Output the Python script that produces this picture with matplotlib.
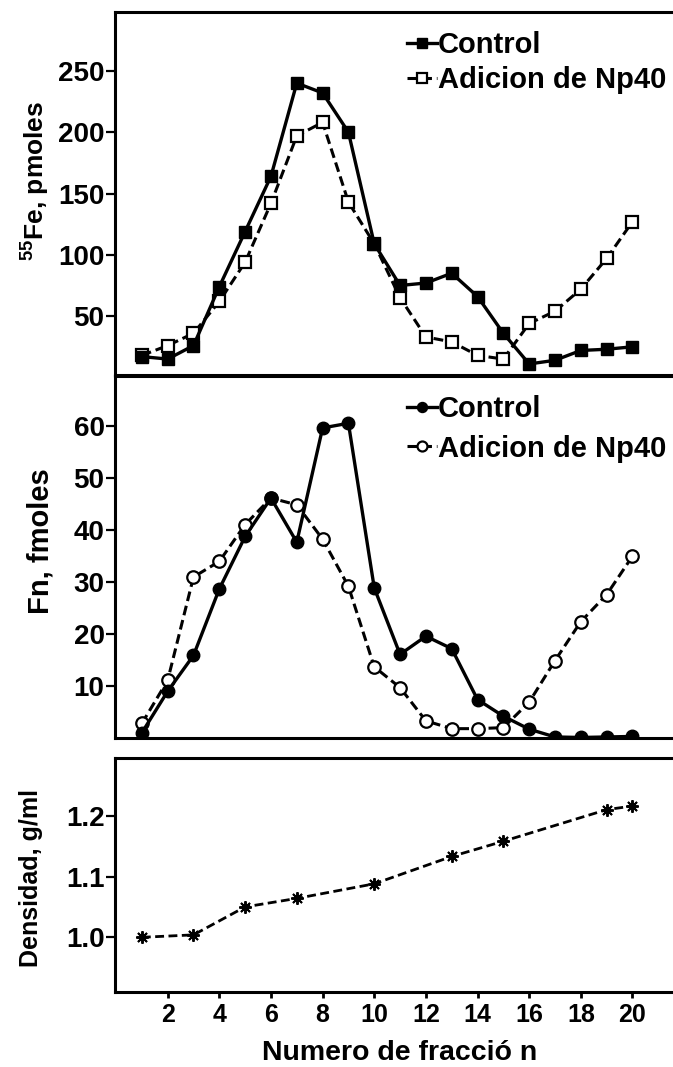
import matplotlib
matplotlib.use("Agg")
import matplotlib.pyplot as plt

plt.rcParams['font.family'] = ['Liberation Sans', 'DejaVu Sans']
plt.rcParams['font.weight'] = 'bold'
plt.rcParams['mathtext.fontset'] = 'custom'
plt.rcParams['mathtext.rm'] = 'Liberation Sans:bold'
plt.rcParams['mathtext.bf'] = 'Liberation Sans:bold'
plt.rcParams['mathtext.default'] = 'bf'

fracciones = list(range(1, 21))

# 55Fe, pmoles
fe_control = [17, 15, 26, 74, 119, 164, 240, 232, 200, 109,
              75, 77, 85, 66, 36, 11, 14, 22, 23, 25]
fe_np40 = [18, 26, 36, 62, 94, 142, 197, 208, 143, 109,
           65, 33, 29, 18, 15, 44, 54, 72, 97, 127]

# Fn, fmoles
fn_control = [1.0, 9.0, 15.9, 28.7, 38.8, 46.2, 37.7, 59.7, 60.6, 28.9,
              16.1, 19.6, 17.2, 7.4, 4.2, 1.7, 0.2, 0.1, 0.2, 0.3]
fn_np40 = [2.8, 11.1, 31.0, 34.0, 41.1, 46.2, 44.9, 38.3, 29.2, 13.7,
           9.7, 3.3, 1.8, 1.8, 2.0, 6.9, 14.9, 22.4, 27.6, 35.0]

# densidad del gradiente
dens_frac = [1, 3, 5, 7, 10, 13, 15, 19, 20]
densidad = [1.000, 1.004, 1.050, 1.064, 1.088, 1.133, 1.158, 1.210, 1.216]

fe_ticks = [50, 100, 150, 200, 250]
fn_ticks = [10, 20, 30, 40, 50, 60]
dens_ticks = [1.0, 1.1, 1.2]
x_ticks = list(range(2, 21, 2))

W, H = 673, 1067
fig = plt.figure(figsize=(W / 100, H / 100), dpi=100)


def box(top, bottom, left=115, right=673):
    return [left / W, 1 - bottom / H, (right - left) / W, (bottom - top) / H]


ax1 = fig.add_axes(box(12, 375))
ax2 = fig.add_axes(box(376, 738))
ax3 = fig.add_axes(box(758, 992))

dash = (0, (3.2, 1.6))

ax1.plot(fracciones, fe_np40, color='black', lw=2.2, linestyle=dash,
         marker='s', ms=9, mfc='white', mec='black', mew=1.6,
         label='Adicion de Np40', zorder=2)
ax1.plot(fracciones, fe_control, color='black', lw=2.4, linestyle='-',
         marker='s', ms=9, mfc='black', mec='black',
         label='Control', zorder=3)

ax2.plot(fracciones, fn_np40, color='black', lw=2.2, linestyle=dash,
         marker='o', ms=9, mfc='white', mec='black', mew=1.6,
         label='Adicion de Np40', zorder=2)
ax2.plot(fracciones, fn_control, color='black', lw=2.4, linestyle='-',
         marker='o', ms=9, mfc='black', mec='black',
         label='Control', zorder=3)

ax3.plot(dens_frac, densidad, color='black', lw=2.0, linestyle=dash,
         marker=(8, 2, 0), ms=9, mew=1.4, mec='black')

ax1.set_ylim(2, 298)
ax2.set_ylim(0, 69.7)
ax3.set_ylim(0.91, 1.295)
for ax in (ax1, ax2, ax3):
    ax.set_xlim(-0.04, 21.57)
    ax.spines['right'].set_visible(False)
    for s in ('left', 'top', 'bottom'):
        ax.spines[s].set_linewidth(2.2)
    ax.tick_params(axis='y', direction='out', length=6.5, width=1.6,
                   labelsize=20, pad=1)

ax1.set_yticks(fe_ticks)
ax2.set_yticks(fn_ticks)
ax3.set_yticks(dens_ticks)
ax3.set_yticklabels(['1.0', '1.1', '1.2'])

for ax in (ax1, ax2):
    ax.set_xticks([])

ax3.set_xticks(x_ticks)
ax3.tick_params(axis='x', direction='out', length=4, width=2,
                labelsize=18, pad=4)

ax1.set_ylabel(r'$^{55}$Fe, pmoles', fontsize=19, fontweight='bold', va='center')
ax1.yaxis.set_label_coords(-0.142, 0.534)
ax2.set_ylabel('Fn, fmoles', fontsize=21, fontweight='bold', va='center')
ax2.yaxis.set_label_coords(-0.133, 0.544)
ax3.set_ylabel('Densidad, g/ml', fontsize=18, fontweight='bold', va='center')
ax3.yaxis.set_label_coords(-0.15, 0.487)
ax3.set_xlabel('Numero de fracció n', fontsize=20.5, fontweight='bold', va='center')
ax3.xaxis.set_label_coords(0.51, -0.26)

for ax, spacing in ((ax1, 0.25), (ax2, 0.4)):
    handles, labels = ax.get_legend_handles_labels()
    ax.legend(handles[::-1], labels[::-1], loc='upper left',
              bbox_to_anchor=(0.49, 1.0), frameon=False,
              prop={'size': 21, 'weight': 'bold'},
              handlelength=1.0, handletextpad=0.05,
              labelspacing=spacing, borderaxespad=0.25, markerscale=0.8)

fig.savefig('out.png', dpi=100)
